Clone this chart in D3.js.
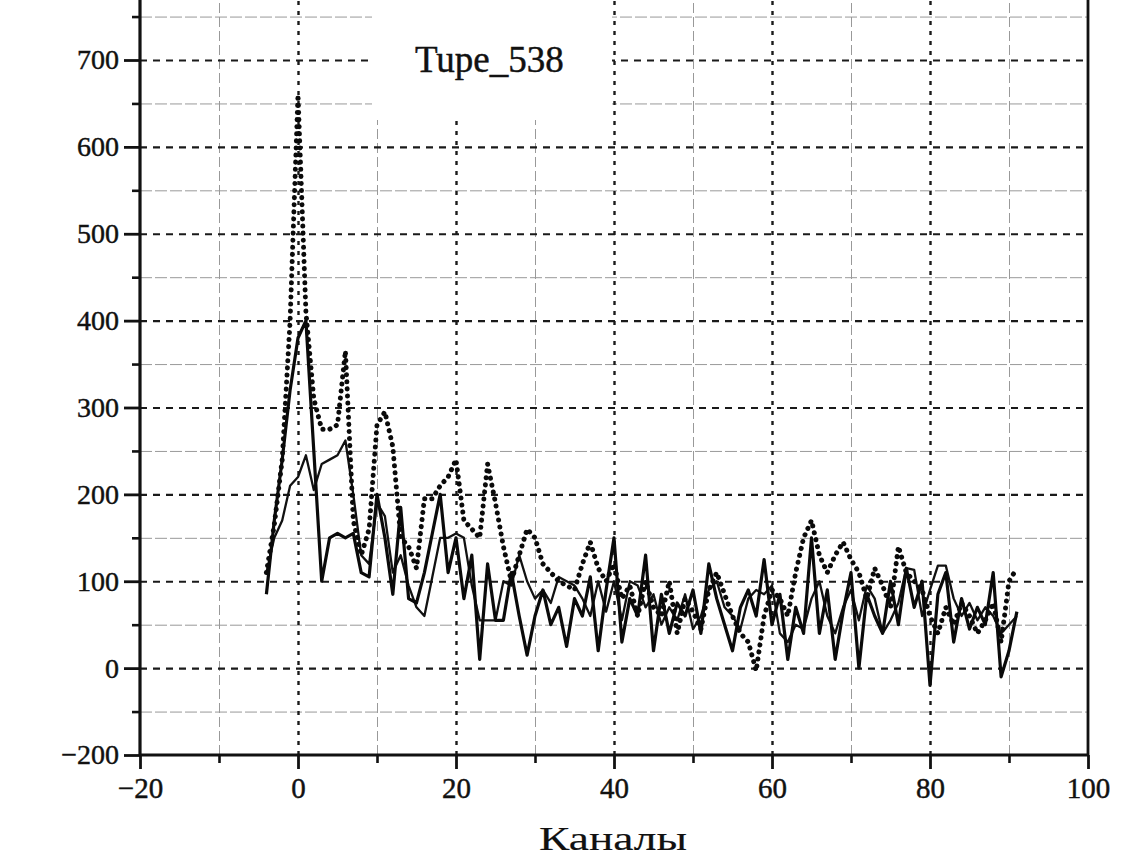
<!DOCTYPE html>
<html>
<head>
<meta charset="utf-8">
<script src="https://cdn.jsdelivr.net/npm/d3@7"></script>
<style>
  body { margin: 0; background: #ffffff; }
  svg { display: block; }
  text { font-family: "Liberation Serif", "DejaVu Serif", serif; fill: #111; stroke: #111; stroke-width: 0.45; }
</style>
</head>
<body>
<svg id="chart" width="1128" height="862"></svg>
<script>
// Channel numbers along the horizontal axis
const channels = [-4,-3,-2,-1,0,1,2,3,4,5,6,7,8,9,10,11,12,13,14,15,16,17,18,19,20,
  21,22,23,24,25,26,27,28,29,30,31,32,33,34,35,36,37,38,39,40,41,42,43,44,45,46,47,48,49,50,
  51,52,53,54,55,56,57,58,59,60,61,62,63,64,65,66,67,68,69,70,71,72,73,74,75,76,77,78,79,80,
  81,82,83,84,85,86,87,88,89,90,91];

// Solid series with the 400 peak
const seriesSharp = [85,170,240,320,380,400,250,100,150,155,150,155,110,105,200,150,85,185,80,75,
  110,155,200,110,150,80,130,10,120,55,55,110,60,15,60,90,50,70,25,80,60,105,20,90,150,30,80,60,
  130,20,85,40,75,60,90,40,120,80,50,20,70,90,60,125,50,85,10,70,40,150,40,90,10,65,110,0,85,60,
  40,100,50,115,70,100,-20,85,110,30,80,45,70,50,110,-10,20,65];

// Solid series with the broad hump
const seriesBroad = [110,150,170,210,220,245,205,235,240,245,262,200,130,120,190,175,110,130,95,70,
  60,105,150,150,155,150,95,55,55,55,100,95,130,100,80,90,75,105,100,95,80,60,100,65,100,55,100,
  95,70,85,50,70,55,85,45,60,90,100,70,60,45,80,90,85,95,40,30,50,45,80,100,60,40,70,90,55,95,80,
  40,55,75,115,113,60,90,118,118,80,60,75,55,70,60,40,50,60];

// Dotted series with the 660 peak
const seriesDotted = [110,165,240,400,660,410,310,275,275,280,365,170,130,160,280,295,255,150,140,115,
  195,195,210,220,240,170,160,150,235,190,140,100,130,160,150,120,110,100,95,90,120,145,115,100,
  120,80,95,60,100,70,60,100,40,80,65,45,90,110,85,60,40,30,-3,60,90,80,60,110,150,170,130,110,
  130,145,125,110,80,115,95,70,140,110,100,90,60,40,70,50,75,60,40,55,75,30,100,115];

// Axis ticks and their printed labels
const yMajorTicks = [-100, 0, 100, 200, 300, 400, 500, 600, 700];
const yMajorLabels = ["\u2212200", "0", "100", "200", "300", "400", "500", "600", "700"];
const yMinorTicks = [-50, 50, 150, 250, 350, 450, 550, 650, 750];
const xMajorTicks = [-20, 0, 20, 40, 60, 80, 100];
const xMajorLabels = ["\u221220", "0", "20", "40", "60", "80", "100"];
const xMinorTicks = [-10, 10, 30, 50, 70, 90];

const titleText = "Tupe_538";
const xAxisTitle = "Каналы";

const svg = d3.select("#chart");
const left = 140, right = 1088, bottom = 755;

const x = d3.scaleLinear().domain([-20, 100]).range([left, right]);
const y = d3.scaleLinear().domain([-100, 700]).range([bottom, 60]);
const plotTop = y(780);
const plotW = right - left, plotH = bottom - plotTop;

// clip region for the plot body
svg.append("defs").append("clipPath").attr("id", "plotClip")
  .append("rect").attr("x", left).attr("y", plotTop).attr("width", plotW).attr("height", plotH);

const grid = svg.append("g").attr("clip-path", "url(#plotClip)");

// minor horizontal grid
grid.append("g").attr("transform", `translate(${left},0)`)
  .call(d3.axisLeft(y).tickValues(yMinorTicks).tickSize(-plotW).tickFormat(""))
  .call(g => g.select(".domain").remove())
  .call(g => g.selectAll("line").attr("stroke", "#999").attr("stroke-width", 1)
    .attr("stroke-dasharray", "12 3"));

// minor vertical grid
grid.append("g").attr("transform", `translate(0,${bottom})`)
  .call(d3.axisBottom(x).tickValues(xMinorTicks).tickSize(-plotH).tickFormat(""))
  .call(g => g.select(".domain").remove())
  .call(g => g.selectAll("line").attr("stroke", "#999").attr("stroke-width", 1)
    .attr("stroke-dasharray", "10 4"));

// major horizontal grid
grid.append("g").attr("transform", `translate(${left},0)`)
  .call(d3.axisLeft(y).tickValues(yMajorTicks.filter(v => v > -100)).tickSize(-plotW).tickFormat(""))
  .call(g => g.select(".domain").remove())
  .call(g => g.selectAll("line").attr("stroke", "#1a1a1a").attr("stroke-width", 2.2)
    .attr("stroke-dasharray", "7 6"));

// major vertical grid
grid.append("g").attr("transform", `translate(0,${bottom})`)
  .call(d3.axisBottom(x).tickValues(xMajorTicks.filter(v => v > -20 && v < 100)).tickSize(-plotH).tickFormat(""))
  .call(g => g.select(".domain").remove())
  .call(g => g.selectAll("line").attr("stroke", "#1a1a1a").attr("stroke-width", 2.4)
    .attr("stroke-dasharray", "4 6"));

// title box
svg.append("rect").attr("x", 372).attr("y", plotTop).attr("width", 240).attr("height", 120 - plotTop)
  .attr("fill", "#ffffff");
svg.append("text").attr("x", 415).attr("y", 72).attr("font-size", 37).text(titleText);

// data series
const pts = s => channels.map((c, i) => [c, s[i]]);
const line = d3.line().x(d => x(d[0])).y(d => y(d[1]));
const plot = svg.append("g").attr("clip-path", "url(#plotClip)");

plot.append("path").datum(pts(seriesBroad)).attr("d", line)
  .attr("fill", "none").attr("stroke", "#111").attr("stroke-width", 2.3)
  .attr("stroke-linejoin", "round");
plot.append("path").datum(pts(seriesSharp)).attr("d", line)
  .attr("fill", "none").attr("stroke", "#0a0a0a").attr("stroke-width", 3.2)
  .attr("stroke-linejoin", "round");
plot.append("path").datum(pts(seriesDotted)).attr("d", line)
  .attr("fill", "none").attr("stroke", "#0a0a0a").attr("stroke-width", 5)
  .attr("stroke-linecap", "round").attr("stroke-dasharray", "0.1 7");

// right border
svg.append("line").attr("x1", right).attr("x2", right).attr("y1", plotTop).attr("y2", bottom)
  .attr("stroke", "#111").attr("stroke-width", 2.8);

// left axis: major ticks with labels, then minor ticks
const yAxis = svg.append("g").attr("transform", `translate(${left},0)`)
  .call(d3.axisLeft(y).tickValues(yMajorTicks).tickSize(16).tickPadding(5)
    .tickFormat((d, i) => yMajorLabels[i]));
yAxis.select(".domain").remove();
yAxis.selectAll("line").attr("stroke", "#111").attr("stroke-width", 2.8);
yAxis.selectAll("text").attr("font-size", 28).attr("fill", "#111")
  .attr("font-family", "Liberation Serif, serif");
svg.append("g").attr("transform", `translate(${left},0)`)
  .call(d3.axisLeft(y).tickValues(yMinorTicks).tickSize(8).tickFormat(""))
  .call(g => g.select(".domain").remove())
  .call(g => g.selectAll("line").attr("stroke", "#111").attr("stroke-width", 2.6));

// bottom axis
const xAxis = svg.append("g").attr("transform", `translate(0,${bottom})`)
  .call(d3.axisBottom(x).tickValues(xMajorTicks).tickSize(14).tickPadding(8)
    .tickFormat((d, i) => xMajorLabels[i]));
xAxis.select(".domain").remove();
xAxis.selectAll("line").attr("stroke", "#111").attr("stroke-width", 2.8);
xAxis.selectAll("text").attr("font-size", 29).attr("fill", "#111")
  .attr("font-family", "Liberation Serif, serif");
svg.append("g").attr("transform", `translate(0,${bottom})`)
  .call(d3.axisBottom(x).tickValues(xMinorTicks).tickSize(8).tickFormat(""))
  .call(g => g.select(".domain").remove())
  .call(g => g.selectAll("line").attr("stroke", "#111").attr("stroke-width", 2.6));

svg.append("line").attr("x1", left).attr("x2", left).attr("y1", plotTop).attr("y2", bottom + 1)
  .attr("stroke", "#111").attr("stroke-width", 3.2);
svg.append("line").attr("x1", left - 1).attr("x2", right + 1).attr("y1", bottom).attr("y2", bottom)
  .attr("stroke", "#111").attr("stroke-width", 3.2);

svg.append("text").attr("x", 613).attr("y", 850)
  .attr("text-anchor", "middle").attr("font-size", 34).style("stroke-width", 0.15)
  .attr("textLength", 148).attr("lengthAdjust", "spacingAndGlyphs").text(xAxisTitle);
</script>
</body>
</html>
